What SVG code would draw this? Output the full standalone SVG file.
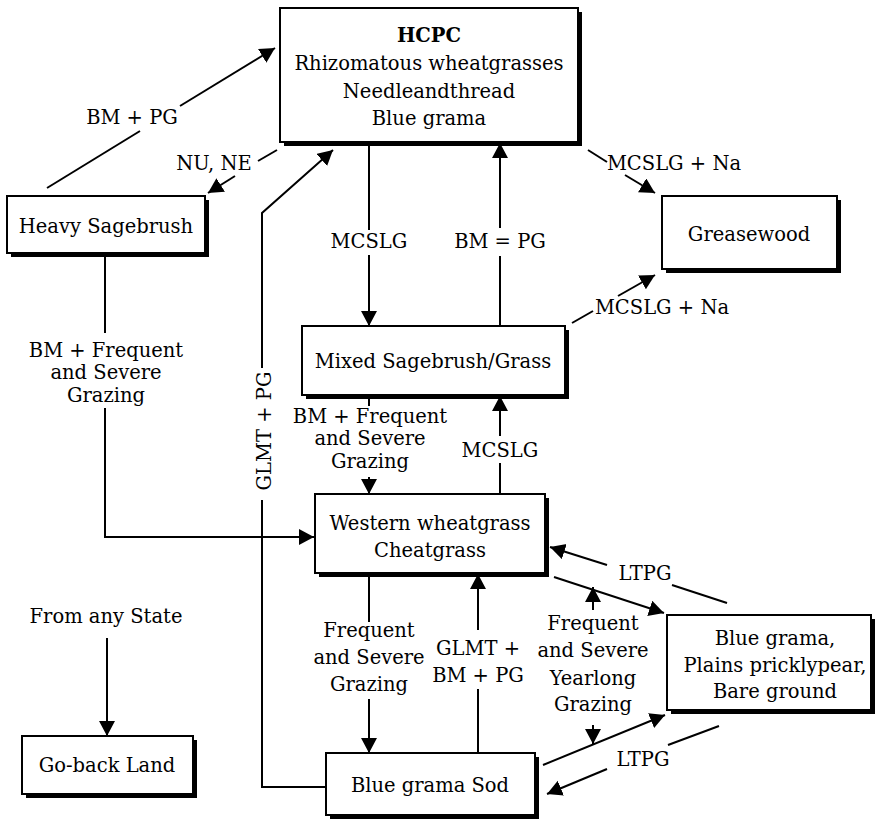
<svg xmlns="http://www.w3.org/2000/svg" width="876" height="821" viewBox="0 0 876 821">
<style>
  .sh { fill: #000; }
  .bx { fill: #fff; stroke: #000; stroke-width: 2; }
  text { font-family: "DejaVu Serif", "Liberation Serif", serif; font-size: 19.5px; fill: #000; text-anchor: middle; }
  .b { font-weight: bold; }
  .ln { fill: none; stroke: #000; stroke-width: 2; }
  .ar { fill: none; stroke: #000; stroke-width: 2; marker-end: url(#ah); }
</style>
<defs>
  <marker id="ah" markerUnits="userSpaceOnUse" markerWidth="17" markerHeight="17" refX="15" refY="8" orient="auto">
    <path d="M0,0 L15,8 L0,16 Z" fill="#000"/>
  </marker>
</defs>
<rect width="876" height="821" fill="#fff"/>

<g id="connectors">
  <!-- Heavy -> HCPC -->
  <path class="ln" d="M47,188 L140,131"/>
  <path class="ar" d="M180,106 L275,48"/>
  <text x="132" y="124">BM + PG</text>
  <!-- HCPC -> Heavy -->
  <path class="ln" d="M277,150 L258,161"/>
  <path class="ar" d="M235,176 L208,193"/>
  <text x="214" y="170">NU, NE</text>
  <!-- HCPC -> Greasewood -->
  <path class="ln" d="M588,150 L607,162"/>
  <path class="ar" d="M625,175 L655,193"/>
  <text x="674" y="170">MCSLG + Na</text>
  <!-- HCPC -> Mixed -->
  <path class="ln" d="M369,143 L369,230"/>
  <path class="ar" d="M369,255 L369,326"/>
  <text x="369" y="248">MCSLG</text>
  <!-- Mixed -> HCPC -->
  <path class="ln" d="M500,326 L500,256"/>
  <path class="ar" d="M500,228 L500,143"/>
  <text x="500" y="248">BM = PG</text>
  <!-- Mixed -> Greasewood -->
  <path class="ln" d="M572,323 L593,311"/>
  <path class="ar" d="M618,296 L655,275"/>
  <text x="662" y="314">MCSLG + Na</text>
  <!-- Heavy -> Western -->
  <path class="ln" d="M105,254 L105,333"/>
  <path class="ar" d="M105,408 L105,537 L314,537"/>
  <text x="106" y="357">BM + Frequent</text>
  <text x="106" y="379">and Severe</text>
  <text x="106" y="402">Grazing</text>
  <!-- Mixed -> Western -->
  <path class="ln" d="M369,396 L369,406"/>
  <path class="ar" d="M369,477 L369,494"/>
  <text x="370" y="423">BM + Frequent</text>
  <text x="370" y="445">and Severe</text>
  <text x="370" y="468">Grazing</text>
  <!-- Western -> Mixed -->
  <path class="ln" d="M500,494 L500,463"/>
  <path class="ar" d="M500,436 L500,396"/>
  <text x="500" y="457">MCSLG</text>
  <!-- Sod -> HCPC -->
  <path class="ln" d="M326,787 L262,787 L262,500"/>
  <path class="ar" d="M262,368 L262,213 L333,150"/>
  <text transform="translate(271,431) rotate(-90)" x="0" y="0">GLMT + PG</text>
  <!-- Western -> Sod -->
  <path class="ln" d="M369,574 L369,622"/>
  <path class="ar" d="M369,699 L369,753"/>
  <text x="369" y="637">Frequent</text>
  <text x="369" y="664">and Severe</text>
  <text x="369" y="691">Grazing</text>
  <!-- Sod -> Western -->
  <path class="ln" d="M478,753 L478,689"/>
  <path class="ar" d="M478,630 L478,574"/>
  <text x="478" y="655">GLMT +</text>
  <text x="478" y="682">BM + PG</text>
  <!-- Western -> Blue grama -->
  <path class="ar" d="M554,577 L664,613"/>
  <!-- Blue grama -> Western (LTPG) -->
  <path class="ln" d="M727,603 L672,585"/>
  <path class="ar" d="M607,565 L550,547"/>
  <text x="645" y="580">LTPG</text>
  <!-- Sod -> Blue grama -->
  <path class="ar" d="M543,765 L665,715"/>
  <!-- Blue grama -> Sod (LTPG) -->
  <path class="ln" d="M719,726 L668,745"/>
  <path class="ar" d="M607,769 L547,794"/>
  <text x="643" y="766">LTPG</text>
  <!-- Yearlong label with small arrows -->
  <path class="ar" d="M593,610 L593,587"/>
  <path class="ar" d="M593,725 L593,744"/>
  <text x="593" y="630">Frequent</text>
  <text x="593" y="657">and Severe</text>
  <text x="593" y="685">Yearlong</text>
  <text x="593" y="711">Grazing</text>
  <!-- From any State -->
  <text x="106" y="623">From any State</text>
  <path class="ar" d="M107,638 L107,736"/>
</g>

<g id="hcpc">
  <rect class="sh" x="284" y="12" width="298" height="134"/>
  <rect class="bx" x="280" y="8" width="298" height="134"/>
  <text class="b" x="429" y="42">HCPC</text>
  <text x="429" y="70">Rhizomatous wheatgrasses</text>
  <text x="429" y="98">Needleandthread</text>
  <text x="429" y="125">Blue grama</text>
</g>
<g id="heavy-sagebrush">
  <rect class="sh" x="11" y="200" width="198" height="57"/>
  <rect class="bx" x="7" y="196" width="198" height="57"/>
  <text x="106" y="233">Heavy Sagebrush</text>
</g>
<g id="greasewood">
  <rect class="sh" x="666" y="200" width="175" height="73"/>
  <rect class="bx" x="662" y="196" width="175" height="73"/>
  <text x="749" y="241">Greasewood</text>
</g>
<g id="mixed">
  <rect class="sh" x="306" y="330" width="263" height="69"/>
  <rect class="bx" x="302" y="326" width="263" height="69"/>
  <text x="433" y="368">Mixed Sagebrush/Grass</text>
</g>
<g id="western">
  <rect class="sh" x="319" y="498" width="230" height="79"/>
  <rect class="bx" x="315" y="494" width="230" height="79"/>
  <text x="430" y="530">Western wheatgrass</text>
  <text x="430" y="557">Cheatgrass</text>
</g>
<g id="blue-grama-bare">
  <rect class="sh" x="671" y="619" width="204" height="95"/>
  <rect class="bx" x="667" y="615" width="204" height="95"/>
  <text x="775" y="645">Blue grama,</text>
  <text x="775" y="672">Plains pricklypear,</text>
  <text x="775" y="698">Bare ground</text>
</g>
<g id="go-back">
  <rect class="sh" x="26" y="740" width="171" height="58"/>
  <rect class="bx" x="22" y="736" width="171" height="58"/>
  <text x="107" y="772">Go-back Land</text>
</g>
<g id="sod">
  <rect class="sh" x="330" y="757" width="209" height="62"/>
  <rect class="bx" x="326" y="753" width="209" height="62"/>
  <text x="430" y="792">Blue grama Sod</text>
</g>
</svg>
